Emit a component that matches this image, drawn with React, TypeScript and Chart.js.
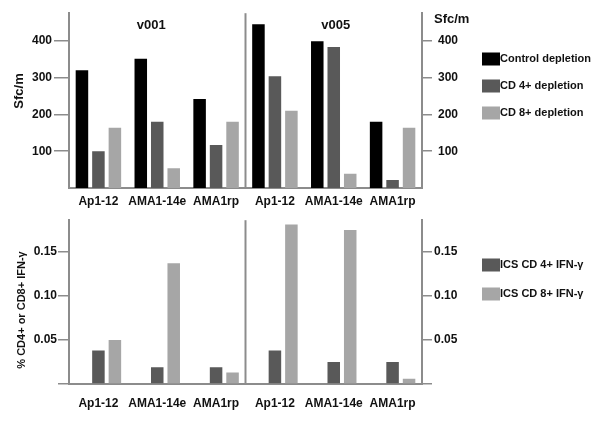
import React, { useEffect, useRef } from "react";
import { Chart, registerables } from "chart.js";

Chart.register(...registerables);

const categories = ["Ap1-12", "AMA1-14e", "AMA1rp", "Ap1-12", "AMA1-14e", "AMA1rp"];
const panelTitles = ["v001", "v005"];

const controlDepletion = [320, 351, 242, 445, 399, 180];
const cd4Depletion = [100, 180, 117, 304, 383, 22];
const cd8Depletion = [164, 54, 180, 210, 39, 164];

const icsCd4 = [0.038, 0.019, 0.019, 0.038, 0.025, 0.025];
const icsCd8 = [0.05, 0.137, 0.013, 0.181, 0.175, 0.006];
const emptySlot = [null, null, null, null, null, null];

const sfcTicks = [100, 200, 300, 400];
const pctTicks = [0, 0.05, 0.1, 0.15];

const BLACK = "#000000";
const DARK = "#595959";
const LIGHT = "#a6a6a6";
const AXIS = "#8c8c8c";
const TEXT = "#111111";
const FONT = "'Liberation Sans', Arial, sans-serif";

const panelPlugin = {
  id: "panels",
  afterDraw(chart: any, _args: any, opts: any) {
    const { ctx, chartArea, scales } = chart;
    const x = scales.x;
    const mid = (x.getPixelForValue(2) + x.getPixelForValue(3)) / 2;
    ctx.save();
    ctx.strokeStyle = AXIS;
    ctx.lineWidth = 2;
    ctx.beginPath();
    ctx.moveTo(mid, chartArea.top);
    ctx.lineTo(mid, chartArea.bottom);
    ctx.stroke();

    ctx.fillStyle = TEXT;
    if (opts.showTitles) {
      ctx.font = `bold 13px ${FONT}`;
      ctx.textAlign = "center";
      ctx.textBaseline = "middle";
      ctx.fillText(panelTitles[0], (chartArea.left + mid) / 2 - 6, opts.titleY);
      ctx.fillText(panelTitles[1], (mid + chartArea.right) / 2 + 2, opts.titleY);
    }
    if (opts.rightTitle) {
      ctx.font = `bold 13px ${FONT}`;
      ctx.textAlign = "left";
      ctx.textBaseline = "middle";
      ctx.fillText(opts.rightTitle, chartArea.right + 12, opts.titleY - 6);
    }
    if (opts.leftTitle) {
      ctx.save();
      ctx.font = `bold ${opts.leftTitleSize}px ${FONT}`;
      ctx.textAlign = "center";
      ctx.textBaseline = "middle";
      ctx.translate(opts.leftTitleX, opts.leftTitleY);
      ctx.rotate(-Math.PI / 2);
      ctx.fillText(opts.leftTitle, 0, 0);
      ctx.restore();
    }
    // legend
    const items = chart.data.datasets.filter((d: any) => d.label);
    ctx.font = `bold 11px ${FONT}`;
    ctx.textAlign = "left";
    ctx.textBaseline = "middle";
    items.forEach((d: any, i: number) => {
      const cy = opts.legendY + i * opts.legendGap;
      ctx.fillStyle = d.backgroundColor;
      ctx.fillRect(opts.legendX, cy - 6.5, 18, 13);
      ctx.fillStyle = TEXT;
      ctx.fillText(d.label, opts.legendX + 18, cy);
    });
    ctx.restore();
  },
};

function yAxis(position: "left" | "right", ticks: number[], min: number, max: number, opts: any) {
  return {
    type: "linear",
    position,
    min,
    max,
    afterBuildTicks: (s: any) => {
      s.ticks = ticks.map((v) => ({ value: v }));
    },
    afterFit: (s: any) => {
      s.width = opts.width;
    },
    border: { display: true, color: AXIS, width: 2 },
    grid: {
      display: true,
      drawOnChartArea: false,
      drawTicks: true,
      tickLength: opts.tickLength,
      color: AXIS,
      lineWidth: 1.5,
    },
    ticks: {
      color: TEXT,
      padding: opts.padding,
      font: { family: FONT, size: 12, weight: "bold" },
      callback: opts.format,
    },
    title: { display: false },
  };
}

function xAxis(height: number, padding: number) {
  return {
    type: "category",
    afterFit: (s: any) => {
      s.height = height;
    },
    border: { display: true, color: AXIS, width: 2 },
    grid: { display: false, drawTicks: false },
    ticks: {
      color: TEXT,
      padding,
      maxRotation: 0,
      autoSkip: false,
      font: { family: FONT, size: 12, weight: "bold" },
    },
  };
}

function TopChart() {
  const ref = useRef<HTMLCanvasElement>(null);
  useEffect(() => {
    const fmt = (v: any) => String(v);
    const chart = new Chart(ref.current as HTMLCanvasElement, {
      type: "bar",
      data: {
        labels: categories,
        datasets: [
          { label: "Control depletion", data: controlDepletion, backgroundColor: BLACK },
          { label: "CD 4+ depletion", data: cd4Depletion, backgroundColor: DARK },
          { label: "CD 8+ depletion", data: cd8Depletion, backgroundColor: LIGHT },
        ],
      },
      options: {
        responsive: false,
        animation: false,
        devicePixelRatio: 1,
        categoryPercentage: 0.84,
        barPercentage: 0.76,
        layout: { padding: { top: 13, left: 0, right: 0, bottom: 0 } },
        plugins: {
          legend: { display: false },
          tooltip: { enabled: false },
          panels: {
            showTitles: true,
            titleY: 25,
            rightTitle: "Sfc/m",
            leftTitle: "Sfc/m",
            leftTitleSize: 13,
            leftTitleX: 19,
            leftTitleY: 91,
            legendX: 482,
            legendY: 59,
            legendGap: 27,
          },
        } as any,
        scales: {
          x: xAxis(23, 6),
          y: yAxis("left", sfcTicks, 0, 475, {
            width: 69,
            tickLength: 15,
            padding: 2,
            format: fmt,
          }),
          y2: yAxis("right", sfcTicks, 0, 475, {
            width: 178,
            tickLength: 10,
            padding: 6,
            format: fmt,
          }),
        } as any,
      },
      plugins: [panelPlugin],
    } as any);
    return () => chart.destroy();
  }, []);
  return <canvas ref={ref} width={600} height={211} style={{ display: "block" }} />;
}

function BottomChart() {
  const ref = useRef<HTMLCanvasElement>(null);
  useEffect(() => {
    const fmt = (v: any) => (Number(v) === 0 ? "" : Number(v).toFixed(2));
    const chart = new Chart(ref.current as HTMLCanvasElement, {
      type: "bar",
      data: {
        labels: categories,
        datasets: [
          { label: "", data: emptySlot, backgroundColor: "rgba(0,0,0,0)" },
          { label: "ICS CD 4+ IFN-γ", data: icsCd4, backgroundColor: DARK },
          { label: "ICS CD 8+ IFN-γ", data: icsCd8, backgroundColor: LIGHT },
        ],
      },
      options: {
        responsive: false,
        animation: false,
        devicePixelRatio: 1,
        categoryPercentage: 0.84,
        barPercentage: 0.76,
        layout: { padding: { top: 2, left: 0, right: 0, bottom: 0 } },
        plugins: {
          legend: { display: false },
          tooltip: { enabled: false },
          panels: {
            showTitles: false,
            titleY: 0,
            leftTitle: "% CD4+ or CD8+ IFN-γ",
            leftTitleSize: 11,
            leftTitleX: 22,
            leftTitleY: 99,
            legendX: 482,
            legendY: 54,
            legendGap: 29,
          },
        } as any,
        scales: {
          x: xAxis(39, 12),
          y: yAxis("left", pctTicks, 0, 0.186, {
            width: 69,
            tickLength: 11,
            padding: 1,
            format: fmt,
          }),
          y2: yAxis("right", pctTicks, 0, 0.186, {
            width: 178,
            tickLength: 10,
            padding: 2,
            format: fmt,
          }),
        } as any,
      },
      plugins: [panelPlugin],
    } as any);
    return () => chart.destroy();
  }, []);
  return <canvas ref={ref} width={600} height={212} style={{ display: "block" }} />;
}

export default function App() {
  return (
    <div
      style={{
        position: "absolute",
        left: 0,
        top: 0,
        width: 600,
        height: 423,
        background: "#ffffff",
      }}
    >
      <TopChart />
      <BottomChart />
    </div>
  );
}
